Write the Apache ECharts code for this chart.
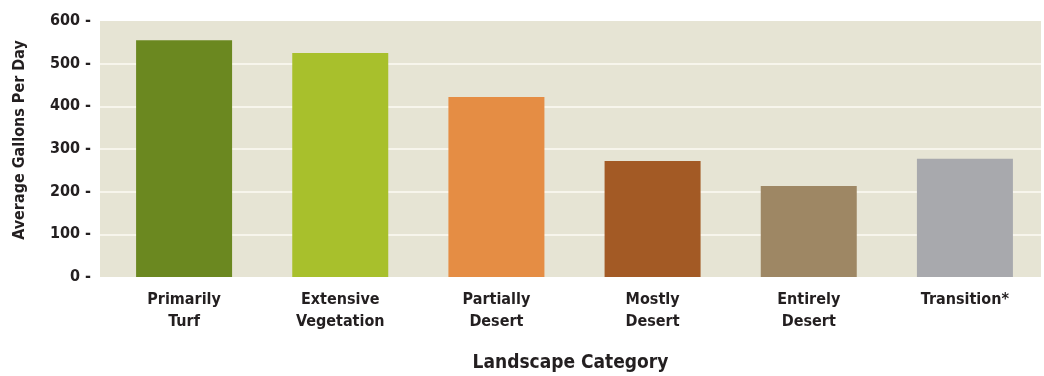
<!DOCTYPE html>
<html>
<head>
<meta charset="utf-8">
<script src="https://cdn.jsdelivr.net/npm/echarts@6/dist/echarts.min.js"></script>
<style>
  html, body { margin: 0; padding: 0; background: #ffffff; }
  #chart { width: 1044px; height: 376px; }
</style>
</head>
<body>
<div id="chart"></div>
<script>
// Landscape categories and their average daily water use (gallons)
const categories = [
  'Primarily\nTurf',
  'Extensive\nVegetation',
  'Partially\nDesert',
  'Mostly\nDesert',
  'Entirely\nDesert',
  'Transition*'
];
const gallonsPerDay = [555, 525, 422, 272, 213, 277];
const barColors = ['#6b8820', '#a8c02c', '#e58d44', '#a35a25', '#9e8764', '#a8a9ad'];
const yTicks = [0, 100, 200, 300, 400, 500, 600];

const FONT = '"Liberation Sans Narrow", "DejaVu Sans Condensed", "Roboto Condensed", sans-serif';
const INK = '#231f20';

const chart = echarts.init(document.getElementById('chart'), null, { renderer: 'canvas' });

chart.setOption({
  animation: false,
  grid: [
    // panel with the beige background, gridlines and value axis
    { left: 100, top: 21, width: 941, height: 256, show: true, backgroundColor: '#e6e4d4',
      borderWidth: 0, containLabel: false, outerBoundsMode: 'none' },
    // bars
    { left: 106, top: 21, width: 937, height: 256, containLabel: false, outerBoundsMode: 'none' }
  ],
  xAxis: [
    {
      gridIndex: 0, type: 'value', min: 0, max: 1,
      axisLine: { show: false }, axisTick: { show: false },
      axisLabel: { show: false }, splitLine: { show: false },
      name: 'Landscape Category', nameLocation: 'middle', nameGap: 77,
      nameTextStyle: { fontFamily: FONT, fontWeight: 'bold', fontSize: 19, color: INK }
    },
    {
      gridIndex: 1, type: 'category', data: categories,
      axisLine: { show: false }, axisTick: { show: false },
      axisLabel: {
        interval: 0, margin: 12, fontFamily: FONT, fontWeight: 'bold',
        fontSize: 16, lineHeight: 22, color: INK
      }
    }
  ],
  yAxis: [
    {
      gridIndex: 0, type: 'value', min: yTicks[0], max: yTicks[yTicks.length - 1], interval: 100,
      axisLine: { show: false }, axisTick: { show: false },
      axisLabel: {
        margin: 9, fontFamily: FONT, fontWeight: 'bold', fontSize: 16, color: INK,
        formatter: v => v + ' -'
      },
      splitLine: { show: true, showMinLine: false, showMaxLine: false, lineStyle: { color: '#f7f5ec', width: 2 } },
      name: 'Average Gallons Per Day', nameLocation: 'middle', nameGap: 72,
      nameTextStyle: { fontFamily: FONT, fontWeight: 'bold', fontSize: 16, color: INK, padding: [0, 0, 0, 18] }
    },
    {
      gridIndex: 1, type: 'value', min: 0, max: 600,
      axisLine: { show: false }, axisTick: { show: false },
      axisLabel: { show: false }, splitLine: { show: false }
    }
  ],
  series: [{
    type: 'bar',
    xAxisIndex: 1, yAxisIndex: 1,
    barWidth: 96,
    data: gallonsPerDay.map((v, i) => ({ value: v, itemStyle: { color: barColors[i] } }))
  }]
});
</script>
</body>
</html>
